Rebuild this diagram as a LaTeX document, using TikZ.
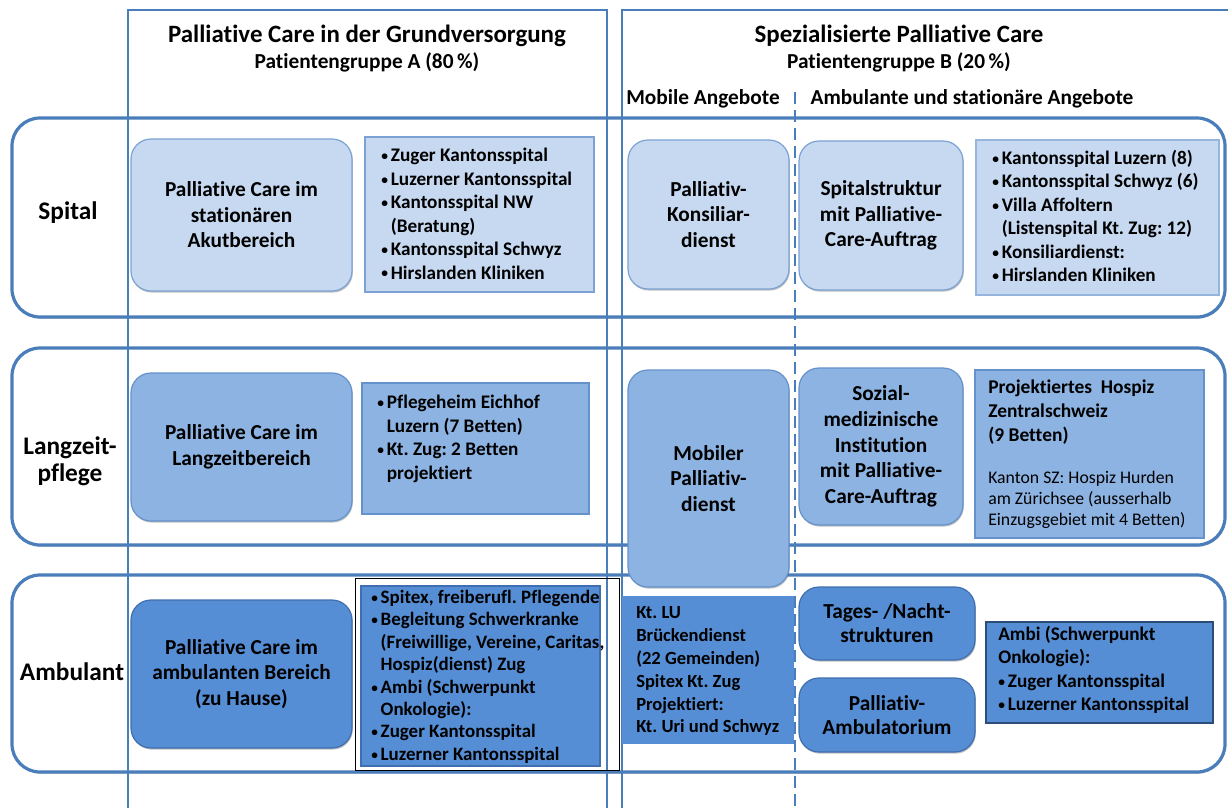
\documentclass[tikz,border=0pt]{standalone}
\usepackage{fontspec}
\usepackage{graphicx}
\setmainfont{Carlito}[RawFeature=-liga]
\frenchspacing
\usetikzlibrary{shadows}
\definecolor{lineblue}{HTML}{4A7EBB}
\definecolor{sfill}{HTML}{C6D9F1}
\definecolor{sborder}{HTML}{7BA2D3}
\definecolor{lfill}{HTML}{8DB3E2}
\definecolor{lborder}{HTML}{6592CB}
\definecolor{afill}{HTML}{558ED5}
\definecolor{aborder}{HTML}{3F6FB0}
\definecolor{darkborder}{HTML}{2E4C78}
\newcommand\fs[2]{\fontsize{#1}{#2}\selectfont}
\newcommand\bl{\makebox[0.5em][l]{\raisebox{0.06em}{\scalebox{0.7}{•}}}}
\newcommand\ind{\hspace*{0.5em}}
\newcommand\bx[7]{\node[#6, minimum width={(#4-#2)*0.75pt}, minimum height={(#5-#3)*0.75pt}] (#1) at ({(#2+#4)/2},{(#3+#5)/2}) {#7};}
\tikzset{
  shd/.style={drop shadow={shadow xshift=0.6pt, shadow yshift=-1.2pt, opacity=0.35, fill=black!70}},
  rowbox/.style={draw=lineblue, fill=white, line width=2.4pt, rounded corners=21pt, inner sep=0pt, shd},
  colbox/.style={draw=lineblue, line width=1.5pt, inner sep=0pt},
  dashline/.style={draw=lineblue, line width=2.2pt, dash pattern=on 9pt off 4.5pt},
  rb/.style={rounded corners=15pt, inner sep=0pt, line width=0.9pt, align=center, font=\bfseries\fs{16}{19.1}, shd},
  rs/.style={rb, fill=sfill, draw=sborder},
  rl/.style={rb, fill=lfill, draw=lborder},
  ra/.style={rb, fill=afill, draw=aborder},
  lbox/.style={inner sep=0pt, line width=0.9pt},
  lst/.style={align=left, inner sep=0pt, anchor=north west, font=\bfseries\fs{14.4}{17.6}},
  rowlbl/.style={align=center, inner sep=0pt, font=\bfseries\fs{19}{20.3}},
  hd/.style={inner sep=0pt, font=\bfseries\fs{18.7}{20}},
  sub/.style={inner sep=0pt, font=\bfseries\fs{16}{18}},
}
\begin{document}
\begin{tikzpicture}[x=0.75pt, y=-0.75pt]
\useasboundingbox (0,0) rectangle (1228,807);
\clip (0,0) rectangle (1228,807);
\fill[white] (0,0) rectangle (1228,807);
% rows
\bx{rowS}{12}{118}{1225}{317}{rowbox}{}
\bx{rowL}{12}{348}{1225}{545}{rowbox}{}
\bx{rowA}{12}{575}{1225}{772}{rowbox}{}
% columns
\bx{colA}{128}{10}{607}{840}{colbox}{}
\bx{colB}{622}{10}{1260}{840}{colbox}{}
\coordinate (dtop) at (795,92);
\coordinate (dbot) at (795,812);
\draw[dashline] (dtop) -- (dbot);
% headers
\node[hd] (h1) at (367,36) {Palliative Care in der Grundversorgung};
\node[sub] (s1) at (367,62) {Patientengruppe A (80\,\%)};
\node[hd] (h2) at (899,36) {Spezialisierte Palliative Care};
\node[sub] (s2) at (899,62) {Patientengruppe B (20\,\%)};
\node[sub] (mob) at (703,99) {Mobile Angebote};
\node[sub] (amb) at (972,99) {Ambulante und stationäre Angebote};
% row labels
\node[rowlbl] (lS) at (68,213) {Spital};
\node[rowlbl] (lL) at (70,461) {Langzeit-\\pflege};
\node[rowlbl] (lA) at (72,672) {Ambulant};
% Spital row
\bx{s1b}{131}{139}{352}{291}{rs}{Palliative Care im\\stationären\\Akutbereich}
\bx{s1l}{365}{137}{594}{292}{lbox, fill=sfill, draw=sborder}{}
\node[lst] (s1t) at (381,148) {\bl Zuger Kantonsspital\\\bl Luzerner Kantonsspital\\\bl Kantonsspital NW\\\ind (Beratung)\\\bl Kantonsspital Schwyz\\\bl Hirslanden Kliniken};
\bx{s2b}{628}{140}{789}{289}{rs}{Palliativ-\\Konsiliar-\\dienst}
\bx{s3b}{799}{141}{963}{290}{rs}{Spitalstruktur\\mit Palliative-\\Care-Auftrag}
\bx{s3l}{976}{140}{1219}{295}{lbox, fill=sfill, draw=sborder!80}{}
\node[lst] (s3t) at (992,150) {\bl Kantonsspital Luzern (8)\\\bl Kantonsspital Schwyz (6)\\\bl Villa Affoltern\\\ind (Listenspital Kt. Zug: 12)\\\bl Konsiliardienst:\\\bl Hirslanden Kliniken};
% Langzeit row
\bx{l1b}{131}{373}{352}{521}{rl}{Palliative Care im\\Langzeitbereich}
\bx{l1l}{362}{383}{589}{514}{lbox, fill=lfill, draw=lborder}{}
\node[lst] (l1t) at (377,395) {\bl Pflegeheim Eichhof\\\ind Luzern (7 Betten)\\\bl Kt. Zug: 2 Betten\\\ind projektiert};
\bx{l3b}{799}{368}{963}{525}{rl, font=\bfseries\fs{16}{19.3}}{Sozial-\\medizinische\\Institution\\mit Palliative-\\Care-Auftrag}
\bx{l3l}{975}{370}{1204}{538}{lbox, fill=lfill, draw=lborder}{}
\node[lst, font=\bfseries\fs{14.6}{18}] (l3t) at (988,380) {Projektiertes\ \ Hospiz\\Zentralschweiz\\(9 Betten)};
\node[lst, font=\fs{13.3}{15.9}] (l3u) at (988,471) {Kanton SZ: Hospiz Hurden\\am Zürichsee (ausserhalb\\Einzugsgebiet mit 4 Betten)};
% Ambulant row
\bx{blk}{355}{578}{619}{770}{draw=black, line width=0.6pt, inner sep=0pt}{}
\bx{a1b}{131}{600}{352}{748}{ra}{Palliative Care im\\ambulanten Bereich\\(zu Hause)}
\bx{a1l}{361}{586}{600}{766}{lbox, fill=afill, draw=aborder}{}
\node[lst, font=\bfseries\fs{14.2}{16.8}] (a1t) at (371,590) {\bl Spitex, freiberufl. Pflegende\\\bl Begleitung Schwerkranke\\\ind (Freiwillige, Vereine, Caritas,\\\ind Hospiz(dienst) Zug\\\bl Ambi (Schwerpunkt\\\ind Onkologie):\\\bl Zuger Kantonsspital\\\bl Luzerner Kantonsspital};
\bx{a2l}{622}{596}{794}{744}{lbox, fill=afill}{}
\node[lst, font=\bfseries\fs{13.9}{17.2}] (a2t) at (636,606) {Kt. LU\\Brückendienst\\(22 Gemeinden)\\Spitex Kt. Zug\\Projektiert:\\Kt. Uri und Schwyz};
% Mobiler Palliativdienst spans rows
\bx{l2b}{628}{370}{789}{587}{rl}{Mobiler\\Palliativ-\\dienst}
\bx{a3b}{799}{587}{975}{660}{ra, font=\bfseries\fs{16}{18}}{Tages- /Nacht-\\strukturen}
\bx{a4b}{799}{678}{975}{752}{ra, font=\bfseries\fs{16}{18}}{Palliativ-\\Ambulatorium}
\bx{a5l}{986}{622}{1213}{723}{lbox, fill=afill, draw=darkborder}{}
\node[lst] (a5t) at (998,626) {Ambi (Schwerpunkt\\Onkologie):\\\bl Zuger Kantonsspital\\\bl Luzerner Kantonsspital};
\end{tikzpicture}
\end{document}
